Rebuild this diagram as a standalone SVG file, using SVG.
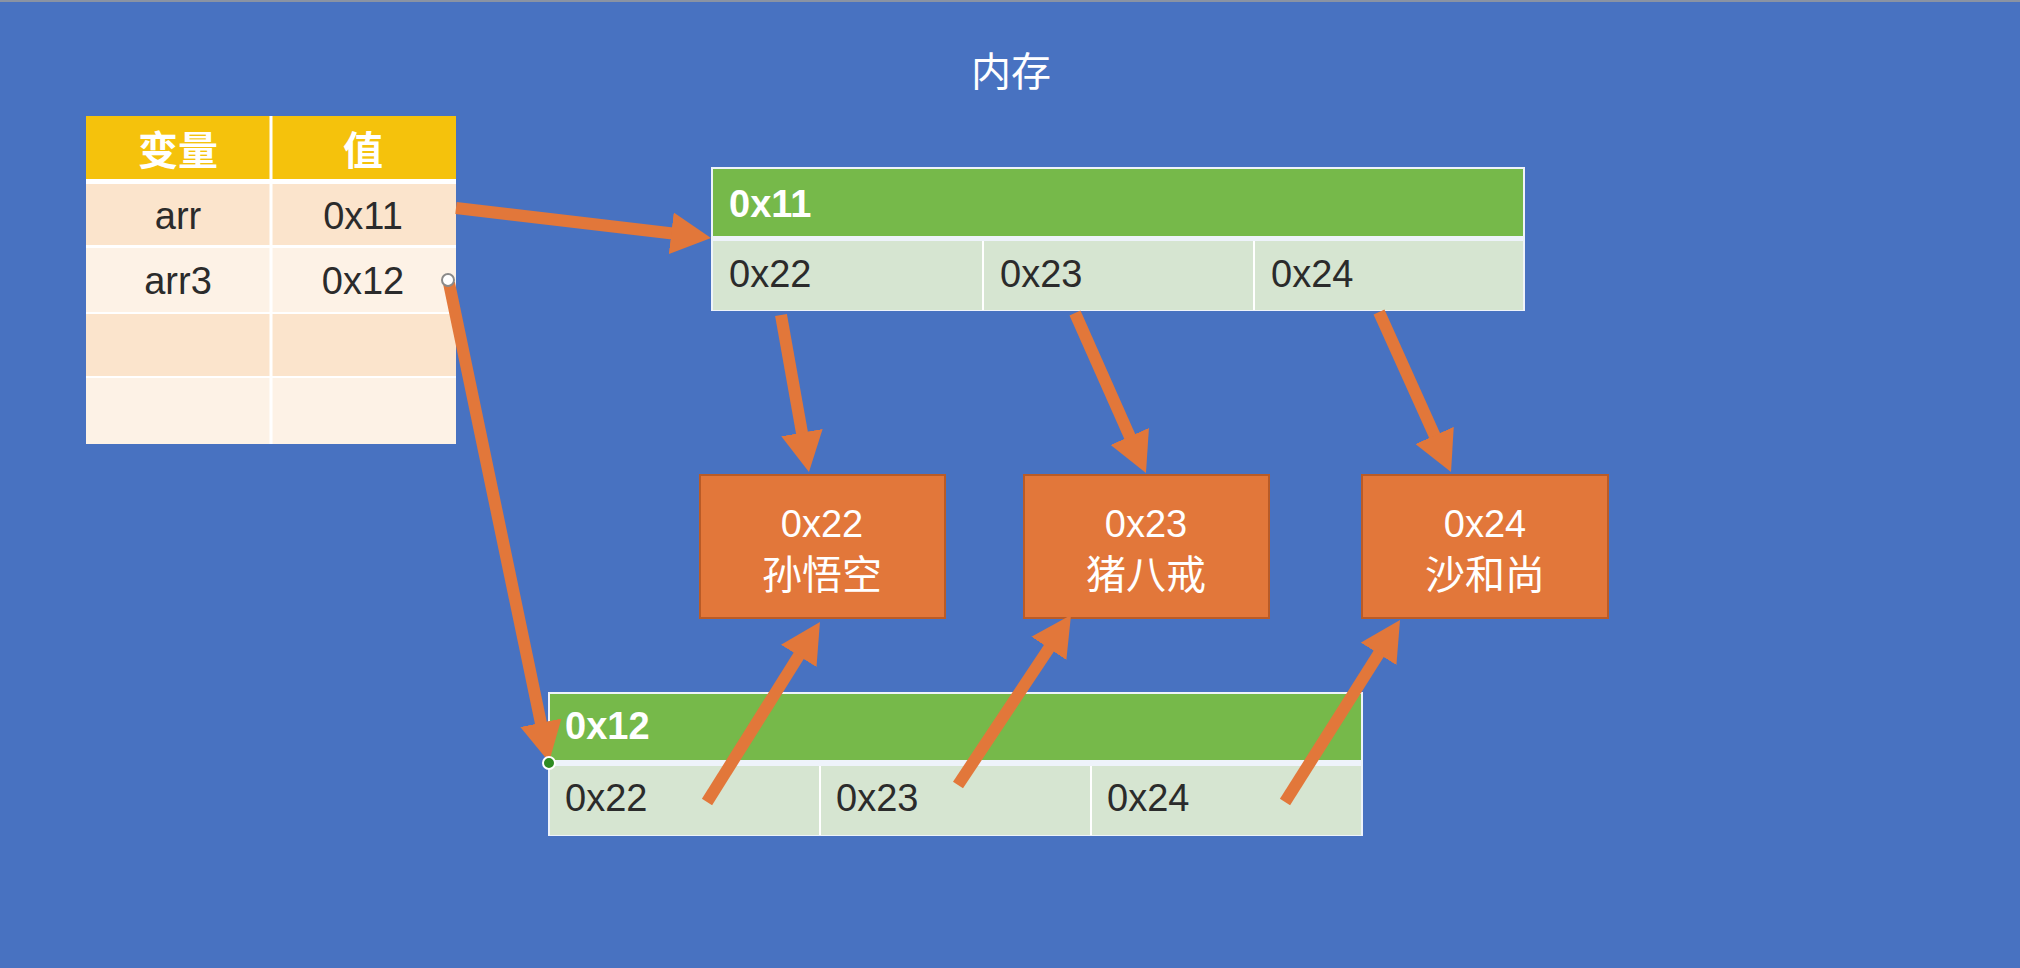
<svg xmlns="http://www.w3.org/2000/svg" width="2020" height="968" viewBox="0 0 2020 968">
<style>
.t{font-family:"Liberation Sans","Noto Sans CJK SC",sans-serif;}
.cjk{font-family:"Noto Sans CJK SC","Liberation Sans",sans-serif;}
.w{fill:#ffffff;}
.d{fill:#2b2b2b;}
.arrow{stroke:#E2773A;stroke-width:12;fill:none;marker-end:url(#ah);}
.obox{fill:#E2773A;stroke:#B95B27;stroke-width:2;}
.hdr{fill:#76B94A;}
.cell{fill:#D6E5D1;}
.sep{stroke:#ffffff;stroke-width:2;}
</style>
<defs>
<marker id="ah" viewBox="0 0 40 42" refX="10" refY="21" markerWidth="40" markerHeight="42" markerUnits="userSpaceOnUse" orient="auto">
<path d="M0,0 L40,21 L0,42 Z" fill="#E2773A"/>
</marker>
</defs>
<rect x="0" y="0" width="2020" height="968" fill="#4872C1"/>
<rect x="0" y="0" width="2020" height="2" fill="#8a93a3"/>
<text id="title" class="cjk w" x="1011" y="86" font-size="40" text-anchor="middle">内存</text>

<g id="var-table">
<rect x="86" y="116" width="370" height="328" fill="#ffffff"/>
<rect x="86" y="116" width="370" height="63" fill="#F5C20C"/>
<rect x="86" y="184" width="370" height="61" fill="#FBE4CC"/>
<rect x="86" y="248" width="370" height="64" fill="#FDF2E6"/>
<rect x="86" y="314" width="370" height="62" fill="#FBE4CC"/>
<rect x="86" y="378" width="370" height="66" fill="#FDF2E6"/>
<line x1="271" y1="116" x2="271" y2="444" stroke="#ffffff" stroke-width="3"/>
<text class="cjk w" x="178" y="165" font-size="40" font-weight="bold" text-anchor="middle">变量</text>
<text class="cjk w" x="363" y="165" font-size="40" font-weight="bold" text-anchor="middle">值</text>
<text class="t d" x="178" y="229" font-size="38" text-anchor="middle">arr</text>
<text class="t d" x="363" y="229" font-size="38" text-anchor="middle">0x11</text>
<text class="t d" x="178" y="294" font-size="38" text-anchor="middle">arr3</text>
<text class="t d" x="363" y="294" font-size="38" text-anchor="middle">0x12</text>
</g>

<g id="array-0x11">
<rect x="711" y="167" width="814" height="144" fill="#EEF3FA"/>
<rect class="hdr" x="713" y="169" width="810" height="67"/>
<rect class="cell" x="713" y="241" width="810" height="69"/>
<line class="sep" x1="983" y1="241" x2="983" y2="310"/>
<line class="sep" x1="1254" y1="241" x2="1254" y2="310"/>
<text class="t w" x="729" y="217" font-size="38" font-weight="bold">0x11</text>
<text class="t d" x="729" y="287" font-size="38">0x22</text>
<text class="t d" x="1000" y="287" font-size="38">0x23</text>
<text class="t d" x="1271" y="287" font-size="38">0x24</text>
</g>

<g id="obj-0x22">
<rect class="obox" x="700" y="475" width="245" height="143"/>
<text class="t w" x="822" y="537" font-size="38" text-anchor="middle">0x22</text>
<text class="cjk w" x="822" y="589" font-size="40" text-anchor="middle">孙悟空</text>
</g>
<g id="obj-0x23">
<rect class="obox" x="1024" y="475" width="245" height="143"/>
<text class="t w" x="1146" y="537" font-size="38" text-anchor="middle">0x23</text>
<text class="cjk w" x="1146" y="589" font-size="40" text-anchor="middle">猪八戒</text>
</g>
<g id="obj-0x24">
<rect class="obox" x="1362" y="475" width="246" height="143"/>
<text class="t w" x="1485" y="537" font-size="38" text-anchor="middle">0x24</text>
<text class="cjk w" x="1485" y="589" font-size="40" text-anchor="middle">沙和尚</text>
</g>

<g id="array-0x12">
<rect x="548" y="692" width="815" height="144" fill="#EEF3FA"/>
<rect class="hdr" x="550" y="694" width="811" height="66"/>
<rect class="cell" x="550" y="766" width="811" height="69"/>
<line class="sep" x1="820" y1="766" x2="820" y2="835"/>
<line class="sep" x1="1091" y1="766" x2="1091" y2="835"/>
<text class="t w" x="565" y="739" font-size="38" font-weight="bold">0x12</text>
<text class="t d" x="565" y="811" font-size="38">0x22</text>
<text class="t d" x="836" y="811" font-size="38">0x23</text>
<text class="t d" x="1107" y="811" font-size="38">0x24</text>
</g>

<g id="connectors">
<line class="arrow" x1="456" y1="208" x2="681.2" y2="234.5"/>
<line class="arrow" x1="449" y1="283" x2="542.9" y2="732.6"/>
<line class="arrow" x1="781" y1="315" x2="803.7" y2="442.5"/>
<line class="arrow" x1="1075" y1="313" x2="1133.8" y2="445.6"/>
<line class="arrow" x1="1379" y1="312" x2="1438.7" y2="444.6"/>
<line class="arrow" x1="707" y1="802" x2="804.0" y2="647.4"/>
<line class="arrow" x1="958" y1="785" x2="1054.4" y2="640.0"/>
<line class="arrow" x1="1285" y1="802" x2="1384.0" y2="645.4"/>
<circle cx="448" cy="280" r="6" fill="#ffffff" stroke="#8a8a8a" stroke-width="2"/>
<circle cx="549" cy="763" r="6" fill="#2E8B22" stroke="#ffffff" stroke-width="2"/>
</g>
</svg>
